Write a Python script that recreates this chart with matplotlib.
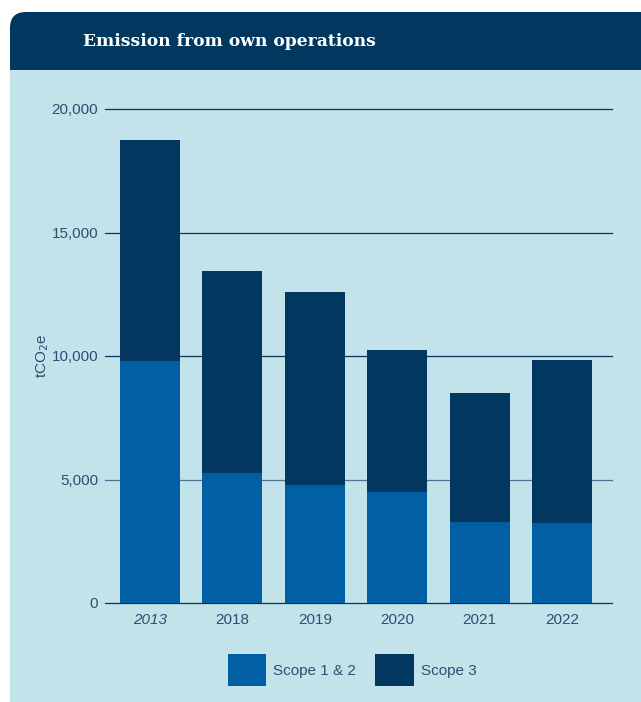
import numpy as np
import matplotlib.pyplot as plt
from matplotlib.patches import FancyBboxPatch, Rectangle

years = ["2013", "2018", "2019", "2020", "2021", "2022"]
scope12 = [9800, 5260, 4780, 4490, 3280, 3240]
scope3 = [8950, 8190, 7810, 5760, 5220, 6600]
yticks = [0, 5000, 10000, 15000, 20000]

navy = "#02375F"
blue = "#0060A3"
panel = "#C3E3EB"
text_c = "#2C4F72"

plt.rcParams["font.family"] = ["Liberation Sans", "DejaVu Sans"]

W, H = 641, 702
fig = plt.figure(figsize=(W / 100, H / 100), dpi=100)
fig.patch.set_facecolor("white")

# background card drawn in pixel coordinates
bg = fig.add_axes([0, 0, 1, 1])
bg.set_xlim(0, W)
bg.set_ylim(H, 0)
bg.axis("off")
bg.add_patch(FancyBboxPatch((10, 12), W + 40, 80, boxstyle="round,pad=0,rounding_size=16",
                            fc=navy, ec="none"))
bg.add_patch(Rectangle((10, 70), W + 40, H, fc=panel, ec="none"))
bg.text(83, 42, "Emission from own operations", color="white", fontsize=12.3,
        fontweight="bold", family=["DejaVu Serif"], va="center", ha="left")

# chart axes: x 105..612, y 109..603 px
ax = fig.add_axes([105 / W, 1 - 603 / H, (612 - 105) / W, (603 - 109) / H])
ax.set_facecolor("none")
x = np.arange(len(years))
ax.bar(x, scope12, width=0.728, color=blue, zorder=3, label="Scope 1 & 2")
ax.bar(x, scope3, bottom=scope12, width=0.728, color=navy, zorder=3, label="Scope 3")

ax.set_xlim(-0.546, 5.607)
ax.set_ylim(0, 20000)
ax.set_yticks(yticks)
ax.set_yticklabels([f"{v:,}" for v in yticks])
ax.yaxis.grid(True, color=navy, lw=0.9, zorder=0)
for g in ax.get_ygridlines():
    g.set_clip_on(False)
ax.get_ygridlines()[1].set_color("#4F7393")
ax.set_axisbelow(True)
for s in ax.spines.values():
    s.set_visible(False)
ax.tick_params(axis="y", length=0, pad=5, labelsize=11, labelcolor=text_c)
ax.tick_params(axis="x", length=0, pad=7, labelsize=11, labelcolor=text_c)
ax.set_xticks(x)
ax.set_xticklabels(years)
ax.get_xticklabels()[0].set_fontstyle("italic")
ax.set_ylabel("tCO$_2$e", color=text_c, fontsize=11, labelpad=0)

leg = fig.legend(loc="center", bbox_to_anchor=(352 / W, 1 - 670 / H), ncol=2, frameon=False,
                 fontsize=11, labelcolor=text_c, handlelength=2.5, handleheight=2.8,
                 handletextpad=0.45, columnspacing=1.3)

fig.savefig("out.png", dpi=100, facecolor=fig.get_facecolor())
